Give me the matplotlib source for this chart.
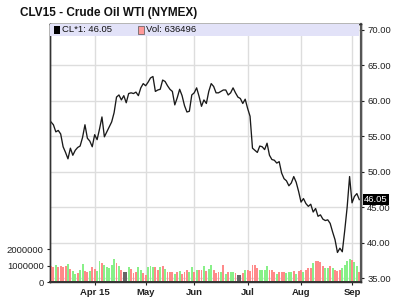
import matplotlib.pyplot as plt
from matplotlib.patches import Rectangle
from matplotlib.transforms import blended_transform_factory

plt.rcParams['font.family'] = ['Liberation Sans', 'DejaVu Sans']

title = "CLV15 - Crude Oil WTI (NYMEX)"
symbol = "CL*1"

# daily closes, one per trading day (early Mar 2015 .. Sep 4 2015)
closes = [57.0, 56.6, 55.6, 55.8, 55.3, 53.5, 52.7, 51.8, 53.3, 52.3,
          53.0, 53.4, 53.6, 54.8, 56.6, 54.7, 54.3, 53.5, 55.2, 54.5,
          56.0, 57.7, 54.9, 55.6, 56.3, 57.0, 58.3, 60.5, 60.8, 60.1,
          60.7, 59.7, 61.0, 61.1, 61.0, 61.2, 60.7, 61.8, 62.4, 62.1,
          62.6, 63.2, 63.4, 61.3, 61.5, 61.6, 62.9, 62.7, 62.1, 61.6,
          61.3, 59.4, 60.4, 61.6, 60.7, 59.3, 58.4, 58.5, 60.8, 61.1,
          61.8, 60.6, 59.2, 60.1, 59.6, 61.3, 62.4, 62.0, 61.1, 61.1,
          61.3, 61.5, 61.5, 60.8, 61.1, 61.8, 61.1, 60.5, 60.3, 59.6,
          60.2, 58.9, 57.8, 53.3, 53.0, 52.7, 53.6, 53.5, 53.1, 54.0,
          52.3, 51.7, 51.6, 51.2, 51.4, 49.8, 49.0, 48.7, 48.0, 48.4,
          49.3, 48.5, 47.2, 45.7, 46.2, 45.5, 45.1, 45.4, 44.3, 44.8,
          43.7, 43.9, 43.3, 43.1, 43.2, 42.7, 41.5, 40.4, 38.6, 39.2,
          38.7, 41.7, 45.0, 49.3, 45.6, 46.5, 46.9, 46.05]

volumes = [960000, 920000, 1020000, 920000, 960000, 920000, 980000, 1080000, 780000, 670000,
           510000, 550000, 710000, 1080000, 670000, 610000, 670000, 900000, 800000, 670000,
           1290000, 1180000, 1020000, 920000, 880000, 1020000, 1390000, 1160000, 980000, 710000,
           610000, 610000, 920000, 780000, 550000, 590000, 900000, 710000, 550000, 450000,
           920000, 960000, 920000, 900000, 750000, 920000, 960000, 820000, 610000, 610000,
           590000, 510000, 590000, 670000, 510000, 610000, 710000, 630000, 920000, 630000,
           710000, 710000, 710000, 960000, 670000, 800000, 1020000, 710000, 550000, 590000,
           590000, 1020000, 510000, 590000, 630000, 630000, 570000, 450000, 450000, 550000,
           710000, 750000, 670000, 1020000, 1020000, 880000, 750000, 710000, 710000, 980000,
           750000, 710000, 610000, 510000, 590000, 590000, 590000, 550000, 610000, 630000,
           670000, 510000, 650000, 710000, 630000, 750000, 880000, 840000, 1180000, 1290000,
           1270000, 1240000, 980000, 840000, 880000, 960000, 880000, 750000, 670000, 710000,
           880000, 1040000, 1290000, 1430000, 1370000, 1200000, 1000000, 636496]

# u = up day, d = down day, n = unchanged (volume bar colour)
directions = ("dduddddudu" "uduudduddu" "uduuuuudud" "nnuddduudd" "uuuddududd"
              "dududdduud" "udduduuddd" "ududuudnnd" "uddddduuuu" "ddduddduuu"
              "duddudddud" "ddduududdd" "uuuuduud")

month_labels = ['Apr 15', 'May', 'Jun', 'Jul', 'Aug', 'Sep']
month_idx = [18, 39, 59, 81, 103, 124]
price_ticks = [35, 40, 45, 50, 55, 60, 65, 70]
vol_ticks = [0, 1000000, 2000000]

bar_colors = {'u': '#88f088', 'd': '#ff8a8a', 'n': '#666666'}
days = list(range(len(closes)))

fig = plt.figure(figsize=(4.07, 3.07), dpi=100)

# price axes holds the grid, drawn first
ax = fig.add_axes([50 / 407, 25 / 307, 311 / 407, 258 / 307])
ax.set_xlim(-0.4, 127.7)
ax.set_ylim(34.44, 70.8)
ax.set_yticks(price_ticks)
ax.set_yticklabels(['%.2f' % p for p in price_ticks])
ax.set_xticks(month_idx)
ax.set_xticklabels(month_labels, fontweight='bold')
ax.grid(color='#dddddd', linewidth=1)
ax.plot(days, closes, color='#1a1a1a', linewidth=0.95)

# volume axes on top, ticks on the left
axv = ax.twinx()
axv.bar(days, volumes, width=0.8, linewidth=0,
        color=[bar_colors[c] for c in directions])
axv.set_ylim(0, 15.8e6)
axv.set_yticks(vol_ticks)
axv.set_yticklabels([str(v) for v in vol_ticks])
axv.yaxis.tick_left()
ax.yaxis.tick_right()
ax.tick_params(axis='both', labelsize=6.8, length=2.5, width=0.8, colors='#222222', pad=2)
axv.tick_params(axis='y', labelsize=6.8, length=2.5, width=0.8, colors='#222222', pad=2)

for a in (ax, axv):
    for s in a.spines.values():
        s.set_color('#333333')
        s.set_linewidth(1)
axv.spines['right'].set_linewidth(1.6)
axv.spines['right'].set_color('#555555')
axv.spines['bottom'].set_linewidth(1.4)

# legend band
axv.add_patch(Rectangle((0, 0.955), 0.995, 0.045, transform=axv.transAxes,
                        facecolor='#e2e2f8', edgecolor='none', zorder=5))
axv.add_patch(Rectangle((0.013, 0.962), 0.02, 0.03, transform=axv.transAxes,
                        facecolor='black', edgecolor='none', zorder=6))
axv.text(0.04, 0.977, '%s: %.2f' % (symbol, closes[-1]), transform=axv.transAxes,
         fontsize=6.8, va='center', ha='left', color='#111111', zorder=6)
axv.add_patch(Rectangle((0.283, 0.962), 0.02, 0.03, transform=axv.transAxes,
                        facecolor='#ff9999', edgecolor='#555555', linewidth=0.5, zorder=6))
axv.text(0.31, 0.977, 'Vol: %d' % volumes[-1], transform=axv.transAxes,
         fontsize=6.8, va='center', ha='left', color='#111111', zorder=6)

# last price marker on the axis
trans = blended_transform_factory(ax.transAxes, ax.transData)
axv.text(1.01, closes[-1], '%.2f' % closes[-1], transform=trans, fontsize=6.8,
         color='white', va='center', ha='left', zorder=7,
         bbox=dict(boxstyle='square,pad=0.12', facecolor='black', edgecolor='none'))

fig.text(20 / 407, 1 - 13 / 307, title, fontsize=8.5, fontweight='bold',
         va='center', ha='left', color='#111111')

fig.savefig('out.png', dpi=100)
